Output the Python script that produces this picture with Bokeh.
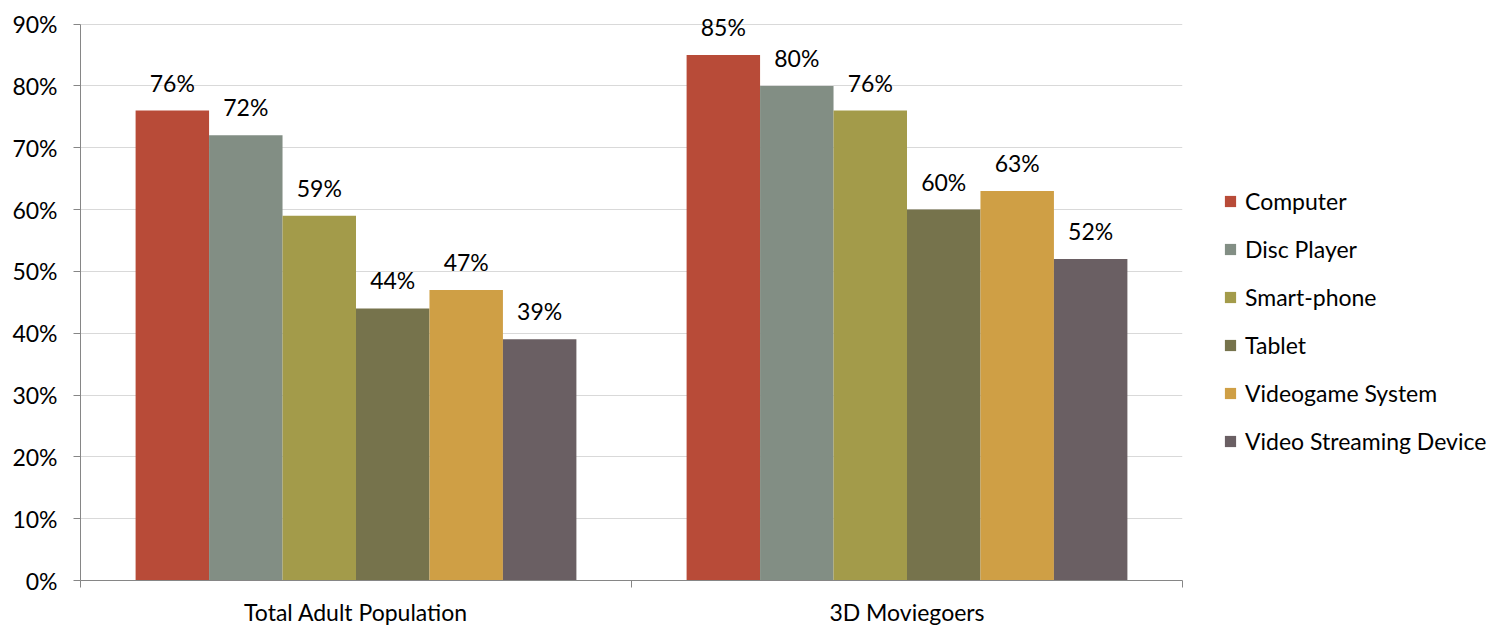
from bokeh.plotting import figure
from bokeh.layouts import row
from bokeh.models import (ColumnDataSource, Legend, LegendItem, FixedTicker, Range1d,
                          LabelSet, CustomJSTickFormatter)
from bokeh.core.properties import value
from bokeh.embed import file_html
from bokeh.resources import INLINE

groups = ["Total Adult Population", "3D Moviegoers"]
series = ["Computer", "Disc Player", "Smart-phone", "Tablet", "Videogame System", "Video Streaming Device"]
colors = ["#B84B38", "#828E84", "#A39B4A", "#76734C", "#CF9F45", "#6A5F63"]
values = {
    "Computer": [76, 85],
    "Disc Player": [72, 80],
    "Smart-phone": [59, 76],
    "Tablet": [44, 60],
    "Videogame System": [47, 63],
    "Video Streaming Device": [39, 52],
}
y_ticks = [0, 10, 20, 30, 40, 50, 60, 70, 80, 90]

FONT = "Lato"
FS = "23px"
H = 628
W_MAIN = 1187
W_LEG = 312
Y_MAX = 93

p = figure(width=W_MAIN, height=H, output_backend="svg", toolbar_location=None,
           x_range=Range1d(0, len(groups)), y_range=Range1d(0, Y_MAX),
           min_border_left=80, min_border_right=W_MAIN - 1182, min_border_top=5,
           min_border_bottom=H - 582)
p.outline_line_color = None
p.background_fill_color = "white"
p.border_fill_color = "white"

n = len(series)
bw = 0.8 / n
for i, s in enumerate(series):
    xs = [g + 0.5 + (i - (n - 1) / 2) * bw for g in range(len(groups))]
    src = ColumnDataSource(dict(x=xs, top=values[s], lab=[f"{v}%" for v in values[s]]))
    p.vbar(x="x", top="top", bottom=0, width=bw, source=src, fill_color=colors[i], line_color=None)
    p.add_layout(LabelSet(x="x", y="top", text="lab", source=src, text_align="center",
                          text_baseline="middle", y_offset=28, text_font=value(FONT),
                          text_font_size=FS, text_color="#000000"))

p.yaxis.ticker = FixedTicker(ticks=y_ticks)
p.yaxis.bounds = (0, 90)
p.yaxis.formatter = CustomJSTickFormatter(code="return tick.toFixed(0) + '%';")
p.yaxis.major_label_text_font = FONT
p.yaxis.major_label_text_font_size = FS
p.yaxis.major_label_text_color = "#000000"
p.yaxis.axis_line_color = "#868686"
p.yaxis.major_tick_line_color = "#868686"
p.yaxis.major_tick_out = 7
p.yaxis.major_tick_in = 0
p.yaxis.minor_tick_line_color = None
p.yaxis.major_label_standoff = 16

p.xaxis.ticker = FixedTicker(ticks=[g + 0.5 for g in range(len(groups))],
                             minor_ticks=list(range(len(groups) + 1)))
p.xaxis.major_label_overrides = {g + 0.5: name for g, name in enumerate(groups)}
p.xaxis.major_label_text_font = FONT
p.xaxis.major_label_text_font_size = FS
p.xaxis.major_label_text_color = "#000000"
p.xaxis.axis_line_color = "#868686"
p.xaxis.major_tick_line_color = None
p.xaxis.major_tick_out = 7
p.xaxis.minor_tick_line_color = "#868686"
p.xaxis.minor_tick_out = 7
p.xaxis.minor_tick_in = 0
p.xaxis.major_label_standoff = 10

p.xgrid.grid_line_color = None
p.ygrid.grid_line_color = "#D9D9D9"
p.ygrid.ticker = FixedTicker(ticks=y_ticks)

# legend panel
lg = figure(width=W_LEG, height=H, output_backend="svg", toolbar_location=None,
            x_range=Range1d(0, 1), y_range=Range1d(0, 1),
            min_border_left=0, min_border_right=0, min_border_top=0, min_border_bottom=0)
lg.axis.visible = False
lg.grid.visible = False
lg.outline_line_color = None
items = []
for i, s in enumerate(series):
    r = lg.rect(x=[5], y=[5], width=1, height=1, fill_color=colors[i], line_color=None)
    items.append(LegendItem(label=s, renderers=[r]))
legend = Legend(items=items, location=(1223 - W_MAIN, H - 503), orientation="vertical",
                glyph_width=14, glyph_height=14, label_height=20, spacing=20,
                label_standoff=8, padding=0, margin=0, border_line_color=None,
                background_fill_alpha=0, label_text_font=FONT,
                label_text_font_size=FS, label_text_color="#000000")
lg.add_layout(legend, "center")

layout = row(p, lg, spacing=0)
open("out.html", "w").write(file_html(layout, INLINE))
